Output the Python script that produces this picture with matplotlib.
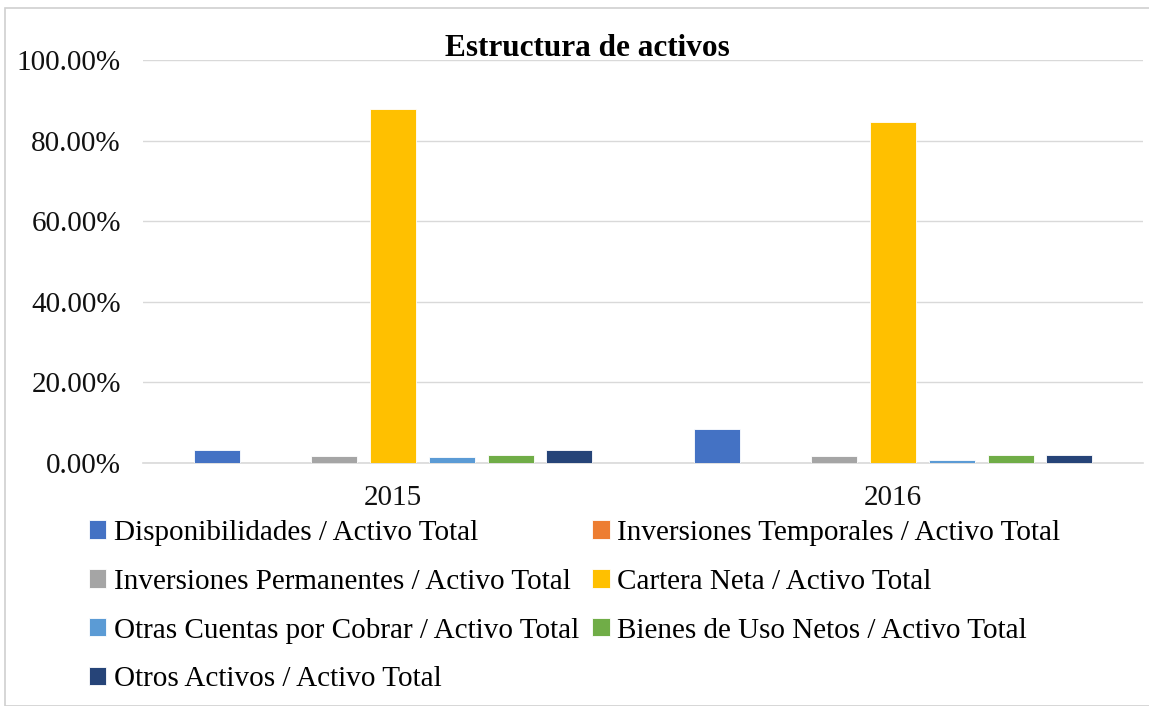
import numpy as np
from matplotlib import pyplot as plt
from matplotlib.patches import Rectangle

years = ["2015", "2016"]
series = [
    "Disponibilidades / Activo Total",
    "Inversiones Temporales / Activo Total",
    "Inversiones Permanentes / Activo Total",
    "Cartera Neta / Activo Total",
    "Otras Cuentas por Cobrar / Activo Total",
    "Bienes de Uso Netos / Activo Total",
    "Otros Activos / Activo Total",
]
values = [
    [3.3, 8.4],
    [0.0, 0.0],
    [1.7, 1.7],
    [87.8, 84.6],
    [1.4, 0.7],
    [2.1, 2.1],
    [3.3, 2.1],
]
colors = ["#4472C4", "#ED7D31", "#A5A5A5", "#FFC000", "#5B9BD5", "#70AD47", "#264478"]

plt.rcParams["font.family"] = ["Liberation Serif", "DejaVu Serif"]

fig = plt.figure(figsize=(11.49, 7.06), dpi=100)
ax = fig.add_axes([143 / 1149, 1 - 463 / 706, 1000 / 1149, 403 / 706])

x = np.arange(len(years))
step = 0.1176
width = 0.092
for i, (name, vals) in enumerate(zip(series, values)):
    ax.bar(x + (i - 3) * step, vals, width=width, color=colors[i], label=name,
           edgecolor="white", linewidth=0.6, zorder=3)

ax.set_xlim(-0.5, 1.5)
ax.set_ylim(0, 100)
ax.set_yticks(np.arange(0, 101, 20))
ax.set_yticklabels([f"{v:.2f}%" for v in np.arange(0, 101, 20)])
ax.set_xticks(x)
ax.set_xticklabels(years)
ax.tick_params(axis="both", length=0, labelsize=21, colors="#111111")
ax.tick_params(axis="y", pad=16)
ax.tick_params(axis="x", pad=16)
ax.grid(axis="y", color="#d9d9d9", linewidth=1, zorder=0)
for s in ["left", "right", "top"]:
    ax.spines[s].set_visible(False)
ax.spines["bottom"].set_color("#d9d9d9")
ax.spines["bottom"].set_linewidth(1.2)

fig.text(587 / 1149, 1 - 49 / 706, "Estructura de activos", ha="center", va="center",
         fontsize=22.5, fontweight="bold")

# row-major legend order for 2 columns
handles, labels = ax.get_legend_handles_labels()
order = [0, 2, 4, 6, 1, 3, 5]
fig.legend([handles[i] for i in order], [labels[i] for i in order],
           loc="upper left", bbox_to_anchor=(89 / 1149, 1 - 520 / 706), ncol=2,
           fontsize=21, frameon=False, handlelength=0.6, handleheight=0.6,
           handletextpad=0.25, columnspacing=0.45, labelspacing=0.78,
           borderaxespad=0, borderpad=0)

fig.patches.append(Rectangle((5 / 1149, 0), 1.2, 1 - 8 / 706, transform=fig.transFigure,
                             fill=False, edgecolor="#d0d0d0", linewidth=1.2))

fig.savefig("out.png", dpi=100)
plt.close()
